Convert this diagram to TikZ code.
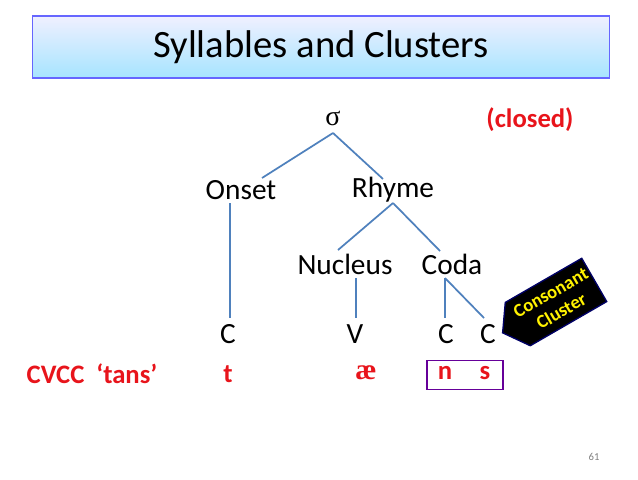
\documentclass[tikz,border=0pt]{standalone}
\usepackage{fontspec}
\setmainfont{Carlito}
\newfontfamily\serifsig{Liberation Serif}
\usetikzlibrary{shapes.symbols}
\definecolor{lin}{HTML}{4F81BD}
\definecolor{red1}{HTML}{E8141B}
\begin{document}
\begin{tikzpicture}[x=0.75pt,y=-0.75pt,
  lbl/.style={font=\fontsize{22}{24}\selectfont, inner sep=1pt},
  red/.style={font=\fontsize{20}{22}\selectfont\bfseries, text=red1, inner sep=1pt},
  br/.style={draw=lin, line width=1.3pt}]
\useasboundingbox (0,0) rectangle (638,479);
\fill[white] (0,0) rectangle (638,479);
\node[draw=blue!60, line width=0.8pt, top color=blue!6, bottom color=blue!30!cyan!35, minimum width=577*0.75pt, minimum height=62*0.75pt, inner sep=0] (title) at (321,47) {};
\node[font=\fontsize{29}{32}\selectfont] (tt) at (321,47) {Syllables and Clusters};
\node[lbl,font=\fontsize{21}{22}\selectfont\serifsig] (sig) at (333,118) {σ};
\node[red] (cl) at (530,120) {(closed)};
\node[lbl] (on) at (241,190) {Onset};
\node[lbl] (rh) at (393,190) {Rhyme};
\node[lbl] (nu) at (345,264) {Nucleus};
\node[lbl] (co) at (452,264) {Coda};
\node[lbl] (c1) at (228,334) {C};
\node[lbl] (v) at (355,334) {V};
\node[lbl] (c2) at (446,334) {C};
\node[lbl] (c3) at (488,334) {C};
\node[red] (cv) at (92,374) {CVCC\ \ ‘tans’};
\node[red] (t) at (228,374) {t};
\node[red,font=\fontsize{22}{24}\selectfont\bfseries\serifsig] (ae) at (366,373) {æ};
\node[red] (n) at (445,373) {n};
\node[red] (s) at (485,373) {s};
\node[draw=violet!80!blue, line width=1.3pt, minimum width=76*0.75pt, minimum height=29*0.75pt, inner sep=0] (box) at (465,375) {};
\node[font=\fontsize{8}{9}\selectfont, text=gray] (pg) at (594,457) {61};
\coordinate (s0) at (333,133);
\coordinate (r0) at (393,203);
\coordinate (o0) at (230,203);
\coordinate (n0) at (356,278);
\coordinate (k0) at (445,278);
\draw[br] (s0) -- (262,178);
\draw[br] (s0) -- (383,179);
\draw[br] (r0) -- (338,250);
\draw[br] (r0) -- (440,251);
\draw[br] (o0) -- (230,318);
\draw[br] (n0) -- (356,318);
\draw[br] (k0) -- (445,318);
\draw[br] (k0) -- (484,318);
\node[signal, signal to=west, signal pointer angle=110, rotate=30, fill=black, draw=blue!40!black, line width=1pt, text=yellow, align=center, font=\fontsize{14}{16}\selectfont\bfseries, inner sep=2pt, minimum height=50*0.75pt, minimum width=100*0.75pt] (cc) at (556,302) {Consonant\\Cluster};
\end{tikzpicture}
\end{document}
